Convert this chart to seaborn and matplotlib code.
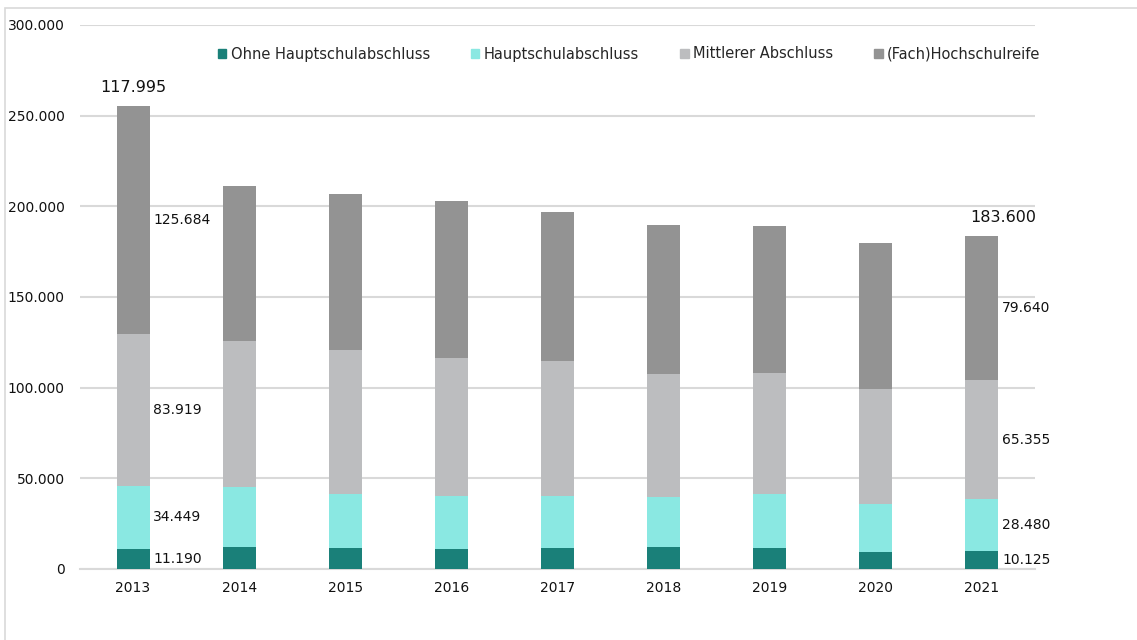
import matplotlib.pyplot as plt
import matplotlib.patches as mpatches
import numpy as np
import pandas as pd
import seaborn as sns
from matplotlib.ticker import FuncFormatter

# Schulabgaenger nach Abschluss, 2013-2021
years = ['2013', '2014', '2015', '2016', '2017', '2018', '2019', '2020', '2021']
ohne_hs = [11190, 12000, 11500, 11000, 11500, 12000, 11500, 9500, 10125]
hauptschule = [34449, 33000, 30000, 29500, 28500, 27500, 30000, 26500, 28480]
mittlerer = [83919, 80500, 79000, 76000, 74500, 68000, 66500, 63500, 65355]
hochschulreife = [125684, 85500, 86500, 86500, 82500, 82000, 81000, 80500, 79640]

series_names = ['Ohne Hauptschulabschluss', 'Hauptschulabschluss',
                'Mittlerer Abschluss', '(Fach)Hochschulreife']
colors = ['#1a8079', '#8ae8e2', '#bcbdbf', '#939393']

# Beschriftungen wie im Original (2013 oben steht 117.995)
top_labels = {'2013': '117.995', '2021': '183.600'}

df = pd.DataFrame({'Jahr': years,
                   series_names[0]: ohne_hs,
                   series_names[1]: hauptschule,
                   series_names[2]: mittlerer,
                   series_names[3]: hochschulreife})
cum = df[series_names].cumsum(axis=1)

sns.set_theme(style='white')
plt.rcParams['font.family'] = ['DejaVu Sans']

fig = plt.figure(figsize=(11.37, 6.4), dpi=100)
ax = fig.add_axes([80 / 1137, 71 / 640, 955 / 1137, 544 / 640])

# stacked bars: draw cumulative totals from top to bottom
for i in reversed(range(4)):
    sns.barplot(x=df['Jahr'], y=cum[series_names[i]], color=colors[i],
                width=0.31, errorbar=None, saturation=1, linewidth=0,
                ax=ax, zorder=3)

ax.set_xlim(-0.5, 8.5)
ax.set_ylim(0, 300000)
ax.set_yticks(np.arange(0, 300001, 50000))
ax.yaxis.set_major_formatter(FuncFormatter(lambda v, p: f'{int(v):,}'.replace(',', '.')))
ax.grid(axis='y', color='#d9d9d9', linewidth=1.5, zorder=0)
ax.set_axisbelow(True)
for s in ['top', 'right', 'left']:
    ax.spines[s].set_visible(False)
ax.spines['bottom'].set_color('#d9d9d9')
ax.spines['bottom'].set_linewidth(1.5)
ax.tick_params(axis='y', length=0, pad=11, labelsize=10, labelcolor='#111111')
ax.tick_params(axis='x', length=0, pad=9, labelsize=10, labelcolor='#111111')
ax.set_xlabel('')
ax.set_ylabel('')

# segment labels for first and last year
for idx in [0, len(years) - 1]:
    bottom = 0
    for name in series_names:
        v = df.loc[idx, name]
        ax.text(idx + 0.19, bottom + v / 2, f'{v:,}'.replace(',', '.'),
                ha='left', va='center', fontsize=10, color='#111111')
        bottom += v
    ax.text(idx + (0.2 if idx > 0 else 0), bottom + 6000, top_labels[years[idx]],
            ha='center', va='bottom', fontsize=11.5, color='#111111')

handles = [mpatches.Patch(color=c, label=n) for c, n in zip(colors, series_names)]
fig.legend(handles=handles, loc='center', bbox_to_anchor=(629 / 1137, 1 - 54 / 640),
           ncol=4, frameon=False, fontsize=10.5, handlelength=0.6, handleheight=0.6,
           handletextpad=0.3, columnspacing=2.8)

# thin frame around the chart area
fig.add_artist(mpatches.Rectangle((5 / 1137, -0.01), 1.1, 1 - 8 / 640 + 0.01,
                                  transform=fig.transFigure, fill=False,
                                  edgecolor='#d9d9d9', linewidth=1.2))

fig.savefig('out.png', dpi=100)
